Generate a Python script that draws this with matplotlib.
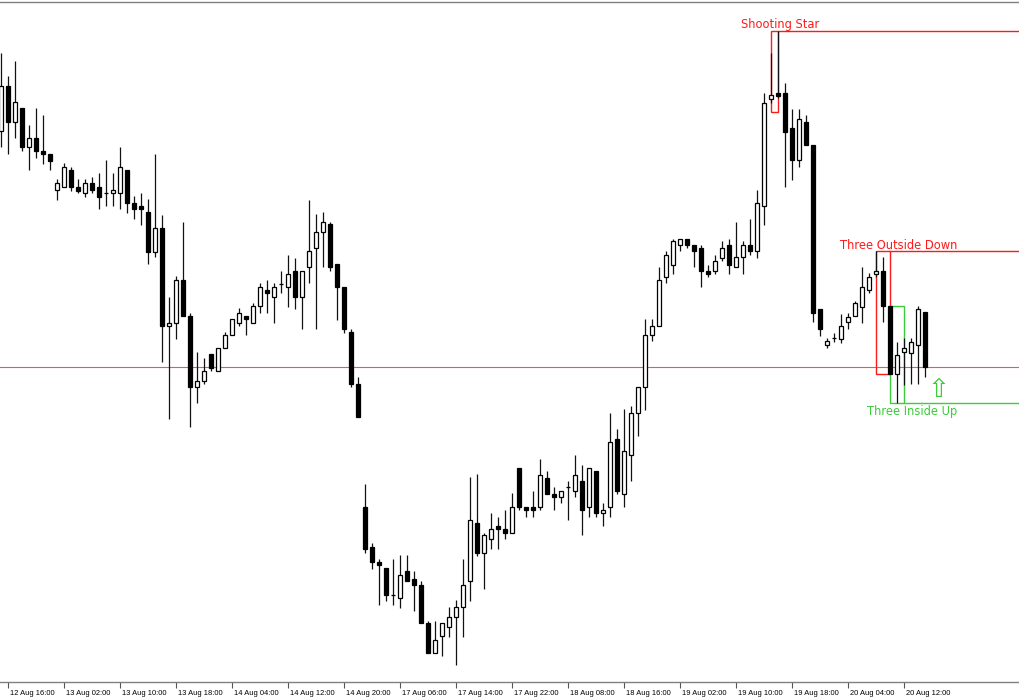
import matplotlib
matplotlib.use("Agg")
import matplotlib.pyplot as plt
from matplotlib.patches import Rectangle
from matplotlib.transforms import ScaledTranslation
import numpy as np

# OHLC values (price units), one hourly candle per entry
opens = [569.3, 614, 578, 592, 552.7, 562.3, 549.3, 545.7, 510, 513.3,
         530, 513.3, 507.3, 516.7, 513.3, 507.3, 507.3, 507.3, 530, 497.3,
         494, 488, 448.3, 471.7, 374, 377.3, 420, 384, 313.3, 319.3,
         345.7, 329, 351.7, 364.7, 377.3, 384, 377.3, 394, 410, 403.3,
         416, 412.7, 429.3, 403.3, 432.7, 451.7, 468.3, 475.7, 436, 413.3,
         368.3, 316, 193.3, 153.3, 138, 132, 105.3, 102, 128.7, 121.3,
         115.3, 76.7, 46.7, 64, 73.3, 82.7, 92.7, 118.7, 176.7, 147.3,
         160.7, 174, 170.7, 166.7, 232, 193.3, 193.3, 193.3, 222, 206,
         202.7, 212.7, 209.3, 218.7, 193.3, 228.7, 186.7, 193.3, 261.3, 206,
         244.7, 287.3, 313.3, 364.7, 374, 423.3, 435.3, 455.3, 461.3, 455.3,
         452, 429.3, 429.3, 442, 455.3, 432.7, 442.7, 455.3, 448.7, 494,
         600.7, 607.3, 607.3, 571.7, 540, 578, 555.3, 390.7, 355, 361.7,
         360.7, 377.7, 384, 393.3, 410, 426, 429.3, 394, 326, 348.3,
         347.3, 355, 387.7]
highs = [647, 624, 639.3, 592, 575, 592, 585.3, 545.7, 520.7, 536.7,
         533, 520.7, 520.7, 523.3, 526.7, 540, 526.7, 552.7, 530, 504,
         507.3, 500.7, 546, 484.7, 403.3, 424, 477.7, 387.3, 347.7, 341.7,
         345.7, 351.7, 368.3, 380.7, 391.7, 384, 397.3, 416.7, 420, 416.7,
         429.3, 445, 442.3, 429.3, 500, 486, 487.7, 477.7, 436, 413.3,
         370.7, 322.7, 216, 157.3, 141.3, 132, 141.3, 144.7, 144.7, 128.7,
         118.7, 79.3, 79.3, 76.7, 92.7, 100, 141.3, 222.7, 226, 167.3,
         186.7, 183.3, 190, 206.7, 232, 193.3, 209.3, 241.3, 229.3, 212.7,
         208.7, 218.7, 244.7, 235.3, 232, 228.7, 196.7, 287.3, 270.7, 290.7,
         294, 313.3, 380.7, 380.7, 432.7, 448.7, 461.3, 461.3, 461.3, 455.3,
         454.7, 435.3, 445.3, 458.7, 461.3, 478, 458.7, 481.3, 510, 607.3,
         647.3, 669.3, 617.3, 591.3, 591.3, 584.7, 555.3, 390.7, 361.7, 367.3,
         386, 386.7, 399.3, 432.7, 426.7, 449, 443.3, 394, 358.3, 361.7,
         361.7, 394, 387.7]
lows = [553, 546, 562.3, 549, 530, 542.3, 536, 530, 500, 513.3,
        509.3, 506.7, 503.3, 506.7, 490.7, 494, 494, 490.7, 487.3, 480.7,
        474.7, 436, 442.7, 338.3, 280.7, 360.7, 384, 273.3, 296.7, 316,
        329, 329, 351.7, 364.7, 374, 364.7, 377.3, 387.3, 387.3, 377.3,
        406.7, 393.3, 390.7, 370.7, 416.7, 370.7, 432.7, 429.3, 380, 367.3,
        312.7, 283.3, 147.3, 131.3, 95.3, 99.3, 95.3, 92, 118.7, 89.3,
        76.7, 46.7, 46.7, 44, 63.3, 34.7, 63.3, 99.3, 144, 111.3,
        151.3, 151.3, 160.7, 166.7, 190, 183.3, 183.3, 190, 206, 190,
        196.7, 180, 202.7, 164.7, 183.3, 183.3, 174, 183.3, 206, 193.3,
        218.7, 264, 290, 358.7, 374, 416.7, 426, 448.7, 452, 432.7,
        412.7, 422.7, 426, 438.7, 426, 432.7, 426, 445.3, 442, 474.7,
        597.3, 601.7, 513.3, 520, 533.3, 555.3, 378, 364, 351.7, 358.3,
        357.3, 370.7, 384, 377.3, 406.7, 423.3, 378, 326, 296.7, 315,
        316, 316, 322.7]
closes = [614, 578.3, 598, 553, 562.3, 549.3, 545.7, 539.3, 516.7, 533,
          513.3, 509.3, 516.7, 510, 503.3, 507.3, 510, 533, 497.3, 490.7,
          490.7, 448.3, 471.7, 374, 377.3, 420, 384, 313.3, 319.3, 329,
          332.3, 351.7, 364.7, 380.7, 387.3, 380.7, 394, 412.7, 406.7, 413.3,
          416, 426, 403.3, 429.3, 449, 468.3, 477.7, 432.7, 412.7, 370.7,
          316, 283.3, 150.7, 138, 134.7, 105.3, 105.3, 124.7, 118.7, 115.3,
          76.7, 46.7, 60, 76.7, 82.7, 92.7, 115.3, 180, 147.3, 164.7,
          170.7, 170.7, 166.7, 193.3, 193.3, 190, 190, 225.3, 206, 202.7,
          208.7, 212.7, 225.3, 190, 232, 186.7, 190, 258, 209.3, 248.7,
          287.3, 313.3, 364.7, 374, 420, 445.3, 458.7, 461.3, 455.3, 448.7,
          429.3, 426, 439.3, 452, 435.3, 442.7, 455.3, 448.7, 497.3, 597.3,
          605, 604, 568.3, 540, 581.3, 555.3, 387.3, 371, 359, 361.7,
          374.3, 383.3, 396.7, 412.7, 423.3, 429.3, 394, 326, 345, 351.7,
          358.3, 391, 332.7]

tick_index = [1, 9, 17, 25, 33, 41, 49, 57, 65, 73, 81, 89, 97, 105, 113, 121, 129]
tick_labels = ["12 Aug 16:00", "13 Aug 02:00", "13 Aug 10:00", "13 Aug 18:00",
               "14 Aug 04:00", "14 Aug 12:00", "14 Aug 20:00", "17 Aug 06:00",
               "17 Aug 14:00", "17 Aug 22:00", "18 Aug 08:00", "18 Aug 16:00",
               "19 Aug 02:00", "19 Aug 10:00", "19 Aug 18:00", "20 Aug 04:00",
               "20 Aug 12:00"]

# candlestick pattern boxes: (name, first bar, last bar, top, bottom)
pattern_names = ["Shooting Star", "Three Outside Down", "Three Inside Up"]
pattern_start = [110, 125, 127]
pattern_end = [111, 127, 129]
pattern_top = [669.3, 449, 394]
pattern_bottom = [588, 326, 296.7]
bid_price = 332.7
arrow_index = 134
arrow_price = 310

RED = "#ff1a1a"
GREEN = "#3ccc3c"

fig = plt.figure(figsize=(10.2, 7.0), dpi=100)
ax = fig.add_axes([0, 18 / 700, 1, (682 - 1.5) / 700])
ax.set_xlim(-1 / 7, 1019 / 7)
ax.set_ylim(18, 698.5)

n = len(opens)
x = np.arange(n)
o = np.array(opens); c = np.array(closes)
h = np.array(highs); l = np.array(lows)

# bid line
ax.axhline(bid_price, color="#ee5555", lw=0.8, zorder=1)

# pattern rectangles
xmax = ax.get_xlim()[1]
for i, name in enumerate(pattern_names):
    col = GREEN if "Up" in name else RED
    x0, x1 = pattern_start[i], pattern_end[i]
    ax.add_patch(Rectangle((x0, pattern_bottom[i]), x1 - x0,
                           pattern_top[i] - pattern_bottom[i],
                           fill=False, edgecolor=col, lw=1.0, zorder=1.5))
    level = pattern_bottom[i] if "Up" in name else pattern_top[i]
    ax.hlines(level, x1, xmax, color=col, lw=1.0, zorder=1.5)

# candles
ax.vlines(x, l, h, color="#111111", lw=0.9, zorder=2)
up = c >= o
ax.bar(x, np.abs(c - o), bottom=np.minimum(o, c), width=0.58,
       color=np.where(up, "white", "black"), edgecolor="black",
       linewidth=0.9, zorder=3)

# pattern labels
ax.text(111.3, 676, pattern_names[0], color=RED, fontsize=8.3,
        ha="center", va="center", family="DejaVu Sans")
ax.text(128.2, 455, pattern_names[1], color=RED, fontsize=8.3,
        ha="center", va="center", family="DejaVu Sans")
ax.text(130.1, 288.3, pattern_names[2], color=GREEN, fontsize=8.3,
        ha="center", va="center", family="DejaVu Sans")
ax.text(arrow_index, arrow_price, "\u21e7", color=GREEN, fontsize=19,
        ha="center", va="center", family="DejaVu Sans")

# axes styling
for s in ["left", "right"]:
    ax.spines[s].set_visible(False)
for s in ["top", "bottom"]:
    ax.spines[s].set_color("#808080")
    ax.spines[s].set_linewidth(1.0)
ax.set_yticks([])
ax.set_xticks(tick_index)
ax.set_xticklabels(tick_labels, fontsize=5.4, ha="left", family="Liberation Sans")
ax.tick_params(axis="x", direction="out", length=4, width=0.8, color="#555555", pad=1.5)
offset = ScaledTranslation(2 / 100, 0, fig.dpi_scale_trans)
for lab in ax.get_xticklabels():
    lab.set_transform(lab.get_transform() + offset)

fig.savefig("out.png", dpi=100)
